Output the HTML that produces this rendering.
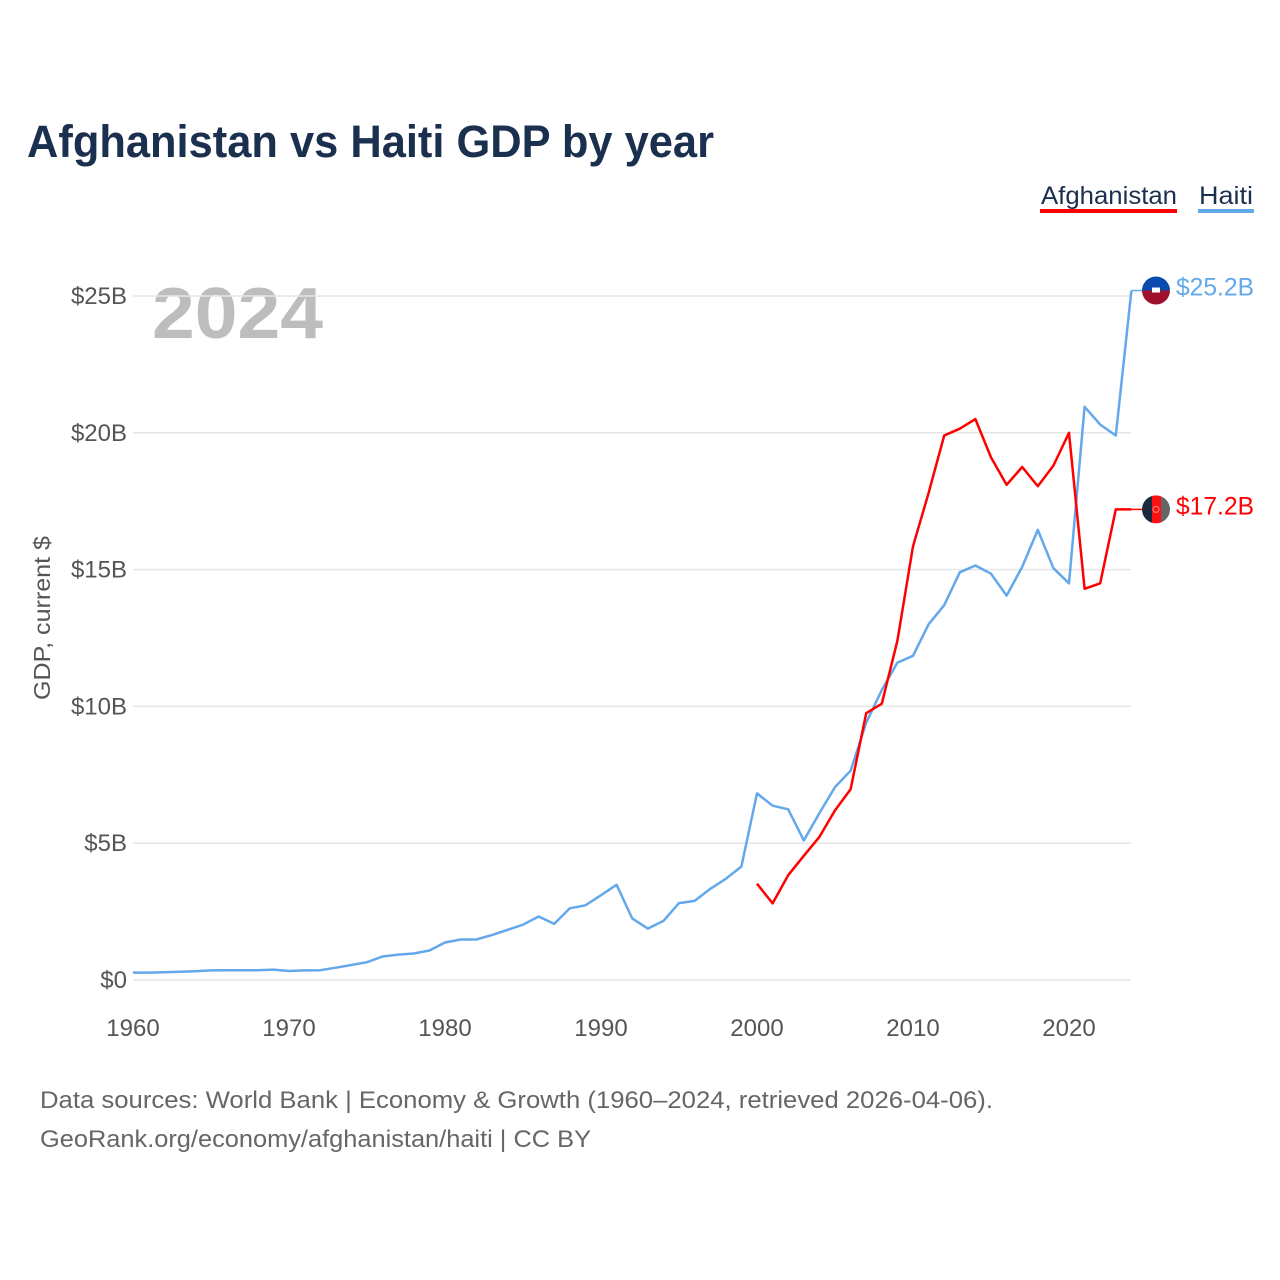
<!DOCTYPE html>
<html><head><meta charset="utf-8"><style>
html,body{margin:0;padding:0;background:#fff;}
body{width:1280px;height:1280px;position:relative;overflow:hidden;font-family:"Liberation Sans",sans-serif;}
</style></head><body>
<svg id="chart" width="1280" height="1280" xmlns="http://www.w3.org/2000/svg" style="position:absolute;left:0;top:0">
<text x="27" y="157" font-size="45" font-weight="bold" fill="#1b2f4e" textLength="687" lengthAdjust="spacingAndGlyphs">Afghanistan vs Haiti GDP by year</text>
<g>
<text x="1041" y="204" font-size="25" fill="#1b2f4e" textLength="136" lengthAdjust="spacingAndGlyphs">Afghanistan</text>
<rect x="1040" y="209" width="137" height="4" fill="#ff0000"/>
<text x="1199" y="204" font-size="25" fill="#1b2f4e" textLength="54" lengthAdjust="spacingAndGlyphs">Haiti</text>
<rect x="1198" y="209" width="56" height="4" fill="#64a8ec"/>
</g>
<text x="152" y="338" font-size="72" font-weight="bold" fill="#bdbdbd" textLength="171" lengthAdjust="spacingAndGlyphs">2024</text>
<text transform="translate(50,618) rotate(-90)" text-anchor="middle" font-size="23" fill="#555" textLength="164" lengthAdjust="spacingAndGlyphs">GDP, current $</text>
<g id="grid"></g>
<g id="series"></g>
<text x="40" y="1108" font-size="24" fill="#666" textLength="953" lengthAdjust="spacingAndGlyphs">Data sources: World Bank | Economy &amp; Growth (1960–2024, retrieved 2026-04-06).</text>
<text x="40" y="1147" font-size="24" fill="#666" textLength="551" lengthAdjust="spacingAndGlyphs">GeoRank.org/economy/afghanistan/haiti | CC BY</text>
</svg>
<script>
const years = [];
for (let y = 1960; y <= 2024; y++) years.push(y);
const haiti = [0.27,0.27,0.28,0.30,0.32,0.35,0.36,0.36,0.36,0.38,0.33,0.35,0.36,0.45,0.55,0.65,0.86,0.93,0.97,1.08,1.37,1.48,1.48,1.64,1.83,2.02,2.32,2.05,2.62,2.73,3.1,3.48,2.25,1.88,2.16,2.81,2.89,3.33,3.7,4.15,6.82,6.37,6.24,5.1,6.1,7.05,7.65,9.4,10.6,11.6,11.85,13.0,13.7,14.9,15.15,14.85,14.05,15.1,16.45,15.05,14.5,20.95,20.3,19.9,25.2];
const afghanYears = [2000,2001,2002,2003,2004,2005,2006,2007,2008,2009,2010,2011,2012,2013,2014,2015,2016,2017,2018,2019,2020,2021,2022,2023,2024];
const afghanistan = [3.52,2.8,3.83,4.54,5.23,6.2,6.97,9.75,10.1,12.4,15.85,17.8,19.9,20.15,20.5,19.1,18.1,18.75,18.05,18.8,20.0,14.3,14.5,17.2,17.2];
const yTicks = [0,5,10,15,20,25];
const yTickLabels = ["$0","$5B","$10B","$15B","$20B","$25B"];
const xTicks = [1960,1970,1980,1990,2000,2010,2020];

const NS = "http://www.w3.org/2000/svg";
const xS = y => 133 + (y - 1960) * 15.6;
const yS = v => 980 - v * 27.36;
const grid = document.getElementById('grid');
const series = document.getElementById('series');
function mk(tag, attrs, parent) { const e = document.createElementNS(NS, tag); for (const k in attrs) e.setAttribute(k, attrs[k]); parent.appendChild(e); return e; }

yTicks.forEach((v, i) => {
  const l = mk('line', {x1: 133, x2: 1131, y1: yS(v), y2: yS(v), stroke: '#e6e6e6', 'stroke-width': 1.5}, grid);
  
  
  const t = mk('text', {x: 127, y: yS(v) + 8, 'text-anchor': 'end', 'font-size': 24, fill: '#555'}, grid);
  t.textContent = yTickLabels[i];
  
  
});
xTicks.forEach(y => {
  const t = mk('text', {x: xS(y), y: 1036, 'text-anchor': 'middle', 'font-size': 24, fill: '#555'}, grid);
  t.textContent = y;
  
  
});

function line(xs, vs, color, name) {
  const d = vs.map((v, i) => (i ? 'L' : 'M') + xS(xs[i]).toFixed(1) + ',' + yS(v).toFixed(1)).join('');
  const p = mk('path', {d: d, fill: 'none', stroke: color, 'stroke-width': 2.5, 'stroke-linejoin': 'round'}, series);
  
  
}
line(years, haiti, '#64a8ec', 'haiti-line');
line(afghanYears, afghanistan, '#ff0000', 'afghanistan-line');

function endLabel(lastX, v, color, name, flag) {
  const y = yS(v);
  const c = mk('line', {x1: xS(lastX), x2: 1142, y1: y, y2: y, stroke: color, 'stroke-width': 1.5}, series);
  
  
  const g = mk('g', {}, series);
  
  
  const cp = mk('clipPath', {id: 'cp' + name}, g);
  mk('circle', {cx: 1156, cy: y, r: 14}, cp);
  const inner = mk('g', {'clip-path': 'url(#cp' + name + ')'}, g);
  if (flag === 'haiti') {
    mk('rect', {x: 1142, y: y - 14, width: 28, height: 14, fill: '#0a4bb0'}, inner);
    mk('rect', {x: 1142, y: y, width: 28, height: 14, fill: '#a0112e'}, inner);
    mk('rect', {x: 1152, y: y - 3, width: 8, height: 5, fill: '#fff'}, inner);
  } else {
    mk('rect', {x: 1142, y: y - 14, width: 10, height: 28, fill: '#1b2a3e'}, inner);
    mk('rect', {x: 1152, y: y - 14, width: 9, height: 28, fill: '#ff1010'}, inner);
    mk('rect', {x: 1161, y: y - 14, width: 9, height: 28, fill: '#666'}, inner);
    mk('circle', {cx: 1156, cy: y, r: 3, fill: 'none', stroke: '#f88', 'stroke-width': 1}, inner);
  }
  const t = mk('text', {x: 1176, y: y + 5, 'font-size': 25, fill: color, textLength: 78, lengthAdjust: 'spacingAndGlyphs'}, series);
  t.textContent = '$' + v.toFixed(1) + 'B';
  
  
}
endLabel(2024, haiti[haiti.length - 1], '#64a8ec', 'haiti', 'haiti');
endLabel(2024, afghanistan[afghanistan.length - 1], '#ff0000', 'afghanistan', 'afg');
</script>
</body></html>
